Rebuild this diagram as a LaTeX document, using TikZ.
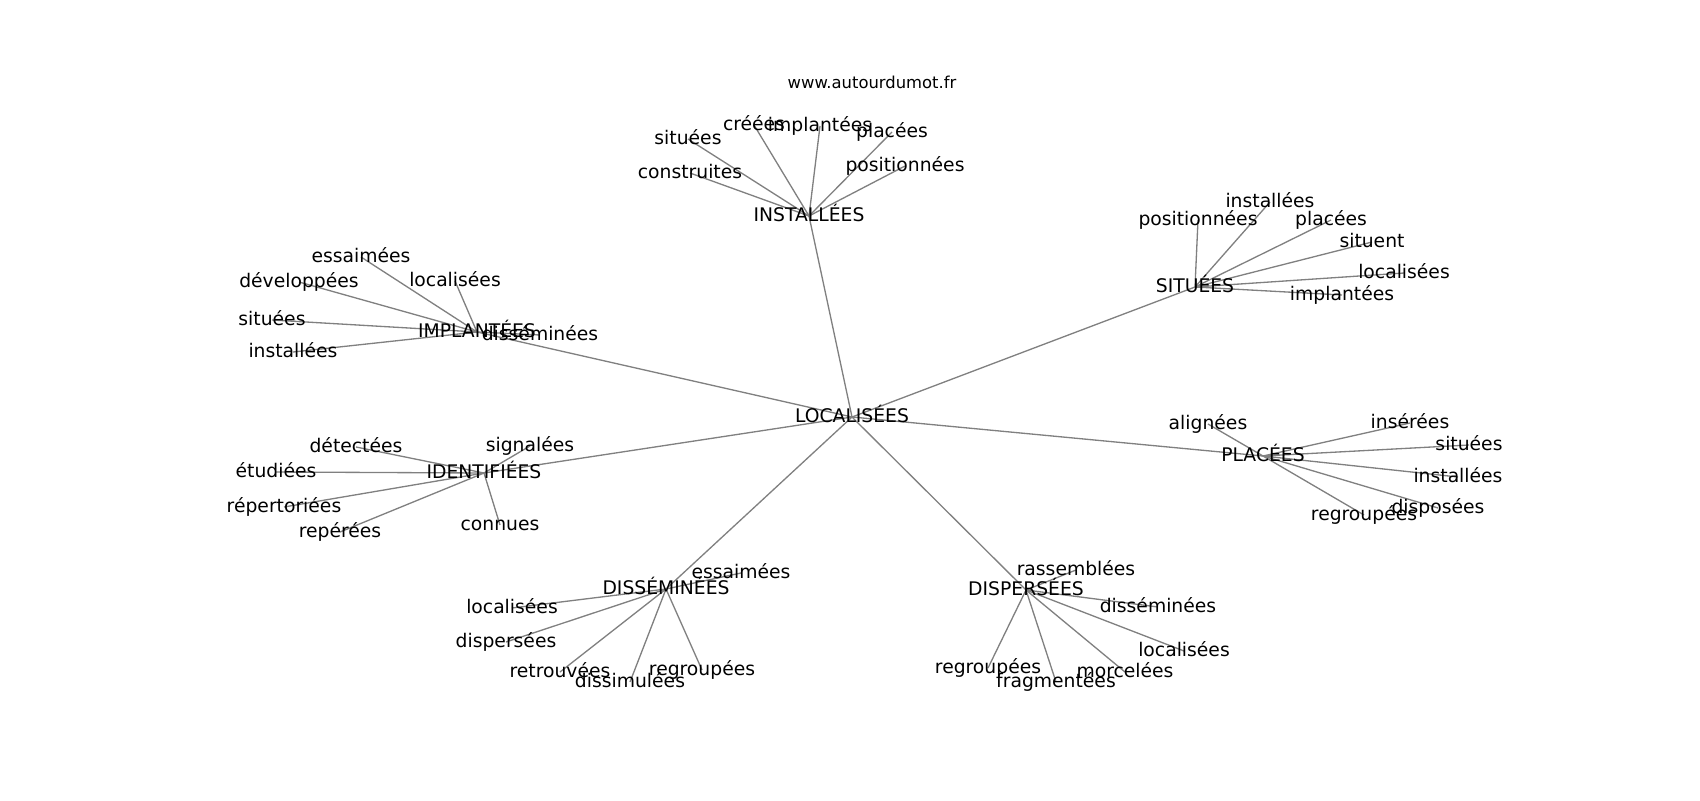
\documentclass[tikz,border=0pt]{standalone}
\usepackage{fontspec}
\setmainfont{DejaVu Sans}
\pgfdeclarelayer{bg}
\pgfsetlayers{bg,main}
\definecolor{edgegray}{RGB}{128,128,128}
\begin{document}
\begin{tikzpicture}[x=0.72pt,y=-0.72pt,
  lbl/.style={font=\fontsize{13.5}{16}\selectfont, inner sep=0pt, text height=10.2pt, text depth=2.8pt, anchor=center},
  ttl/.style={font=\fontsize{11.8}{14}\selectfont, inner sep=0pt, text height=9pt, text depth=2.5pt, anchor=center},
  edge/.style={draw=edgegray, line width=0.95pt}]
\useasboundingbox (0,0) rectangle (1700,800);
\node[ttl] (title) at (872,84) {www.autourdumot.fr};
% hubs
\node[lbl] (L) at (852,417) {LOCALISÉES};
\node[lbl] (I) at (809,216) {INSTALLÉES};
\node[lbl] (S) at (1195,287) {SITUÉES};
\node[lbl] (M) at (477,332) {IMPLANTÉES};
\node[lbl] (D) at (484,473) {IDENTIFIÉES};
\node[lbl] (P) at (1263,456) {PLACÉES};
\node[lbl] (E) at (666,589) {DISSÉMINÉES};
\node[lbl] (R) at (1026,590) {DISPERSÉES};
% INSTALLEES leaves
\node[lbl] (I1) at (688,139) {situées};
\node[lbl] (I2) at (754,125) {créées};
\node[lbl] (I3) at (820,126) {implantées};
\node[lbl] (I4) at (892,132) {placées};
\node[lbl] (I5) at (905,166) {positionnées};
\node[lbl] (I6) at (690,173) {construites};
% SITUEES leaves
\node[lbl] (S1) at (1198,220) {positionnées};
\node[lbl] (S2) at (1270,202) {installées};
\node[lbl] (S3) at (1331,220) {placées};
\node[lbl] (S4) at (1372,242) {situent};
\node[lbl] (S5) at (1404,273) {localisées};
\node[lbl] (S6) at (1342,295) {implantées};
% IMPLANTEES leaves
\node[lbl] (M1) at (361,257) {essaimées};
\node[lbl] (M2) at (299,282) {développées};
\node[lbl] (M3) at (455,281) {localisées};
\node[lbl] (M4) at (272,320) {situées};
\node[lbl] (M5) at (293,352) {installées};
\node[lbl] (M6) at (540,335) {disséminées};
% IDENTIFIEES leaves
\node[lbl] (D1) at (356,447) {détectées};
\node[lbl] (D2) at (530,446) {signalées};
\node[lbl] (D3) at (276,472) {étudiées};
\node[lbl] (D4) at (284,507) {répertoriées};
\node[lbl] (D5) at (340,532) {repérées};
\node[lbl] (D6) at (500,525) {connues};
% PLACEES leaves
\node[lbl] (P1) at (1208,424) {alignées};
\node[lbl] (P2) at (1410,423) {insérées};
\node[lbl] (P3) at (1469,445) {situées};
\node[lbl] (P4) at (1458,477) {installées};
\node[lbl] (P5) at (1438,508) {disposées};
\node[lbl] (P6) at (1364,515) {regroupées};
% DISSEMINEES leaves
\node[lbl] (E1) at (741,573) {essaimées};
\node[lbl] (E2) at (512,608) {localisées};
\node[lbl] (E3) at (506,642) {dispersées};
\node[lbl] (E4) at (560,672) {retrouvées};
\node[lbl] (E5) at (630,682) {dissimulées};
\node[lbl] (E6) at (702,670) {regroupées};
% DISPERSEES leaves
\node[lbl] (R1) at (1076,570) {rassemblées};
\node[lbl] (R2) at (1158,607) {disséminées};
\node[lbl] (R3) at (1184,651) {localisées};
\node[lbl] (R4) at (1125,672) {morcelées};
\node[lbl] (R5) at (988,668) {regroupées};
\node[lbl] (R6) at (1056,682) {fragmentées};
\begin{pgfonlayer}{bg}
\foreach \h in {I,S,M,D,P,E,R}{
  \draw[edge] (L.center) -- (\h.center);
  \foreach \k in {1,...,6}{
    \draw[edge] (\h.center) -- (\h\k.center);
  }
}
\end{pgfonlayer}
\end{tikzpicture}
\end{document}
